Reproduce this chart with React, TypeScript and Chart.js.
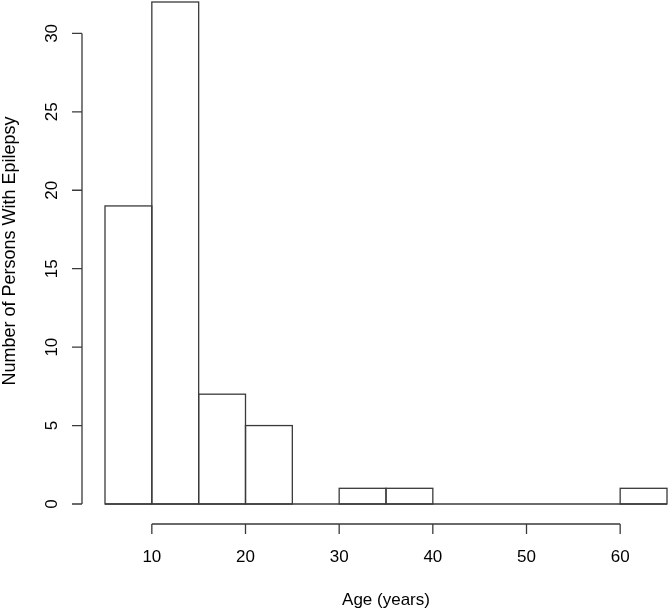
import React, { useEffect, useRef } from "react";
import { Chart, registerables } from "chart.js";

Chart.register(...registerables);

const binStarts = [5, 10, 15, 20, 25, 30, 35, 40, 45, 50, 55, 60];
const counts = [19, 32, 7, 5, 0, 1, 1, 0, 0, 0, 0, 1];
const binWidth = 5;
const xTicks = [10, 20, 30, 40, 50, 60];
const yTicks = [0, 5, 10, 15, 20, 25, 30];
const xTitle = "Age (years)";
const yTitle = "Number of Persons With Epilepsy";

const FONT = '"Liberation Sans", Arial, Helvetica, sans-serif';
const LINE = "#3a3a3a";

const rAxesPlugin = {
  id: "rAxes",
  afterDatasetsDraw(chart: any) {
    const ctx = chart.ctx as CanvasRenderingContext2D;
    const xs = chart.scales.x;
    const ys = chart.scales.y;
    const meta = chart.getDatasetMeta(0);
    ctx.save();
    ctx.strokeStyle = LINE;
    ctx.lineWidth = 1.3;
    // bar outlines
    meta.data.forEach((el: any, i: number) => {
      if (counts[i] <= 0) return;
      const left = xs.getPixelForValue(binStarts[i]);
      const right = xs.getPixelForValue(binStarts[i] + binWidth);
      ctx.strokeRect(left, el.y, right - left, el.base - el.y);
    });
    // baseline
    const y0 = ys.getPixelForValue(0);
    ctx.beginPath();
    ctx.moveTo(xs.getPixelForValue(binStarts[0]), y0);
    ctx.lineTo(xs.getPixelForValue(binStarts[binStarts.length - 1] + binWidth), y0);
    ctx.stroke();

    // x axis (R style, offset below)
    const axY = 524;
    ctx.beginPath();
    ctx.moveTo(xs.getPixelForValue(xTicks[0]), axY);
    ctx.lineTo(xs.getPixelForValue(xTicks[xTicks.length - 1]), axY);
    xTicks.forEach((t) => {
      const px = xs.getPixelForValue(t);
      ctx.moveTo(px, axY);
      ctx.lineTo(px, axY + 10);
    });
    ctx.stroke();
    ctx.fillStyle = "#000";
    ctx.font = `17px ${FONT}`;
    ctx.textAlign = "center";
    ctx.textBaseline = "middle";
    xTicks.forEach((t) => {
      ctx.fillText(String(t), xs.getPixelForValue(t), 557);
    });
    ctx.fillText(xTitle, (xs.getPixelForValue(5) + xs.getPixelForValue(65)) / 2, 600);

    // y axis
    const axX = 82;
    ctx.beginPath();
    ctx.moveTo(axX, ys.getPixelForValue(yTicks[0]));
    ctx.lineTo(axX, ys.getPixelForValue(yTicks[yTicks.length - 1]));
    yTicks.forEach((t) => {
      const py = ys.getPixelForValue(t);
      ctx.moveTo(axX, py);
      ctx.lineTo(axX - 10, py);
    });
    ctx.stroke();
    yTicks.forEach((t) => {
      const py = ys.getPixelForValue(t);
      ctx.save();
      ctx.translate(52, py);
      ctx.rotate(-Math.PI / 2);
      ctx.fillText(String(t), 0, 0);
      ctx.restore();
    });
    ctx.save();
    ctx.font = `18px ${FONT}`;
    ctx.translate(10, 251);
    ctx.rotate(-Math.PI / 2);
    ctx.fillText(yTitle, 0, 0);
    ctx.restore();
    ctx.restore();
  },
};

export default function App() {
  const ref = useRef<HTMLCanvasElement>(null);
  useEffect(() => {
    if (!ref.current) return;
    const chart = new Chart(ref.current, {
      type: "bar",
      data: {
        datasets: [
          {
            data: binStarts.map((s, i) => ({ x: s + binWidth / 2, y: counts[i] })),
            backgroundColor: "#ffffff",
            borderWidth: 0,
            barPercentage: 1,
            categoryPercentage: 1,
          },
        ],
      },
      options: {
        responsive: false,
        animation: false,
        layout: { padding: { left: 105, right: 2, top: 2, bottom: 107 } },
        plugins: { legend: { display: false }, tooltip: { enabled: false } },
        scales: {
          x: { type: "linear", min: 5, max: 65, display: false, offset: false },
          y: { type: "linear", min: 0, max: 32, display: false },
        },
      },
      plugins: [rAxesPlugin],
    });
    return () => chart.destroy();
  }, []);
  return (
    <div style={{ position: "fixed", left: 0, top: 0, width: 669, height: 611, background: "#fff" }}>
      <canvas ref={ref} width={669} height={611} style={{ display: "block" }} />
    </div>
  );
}
